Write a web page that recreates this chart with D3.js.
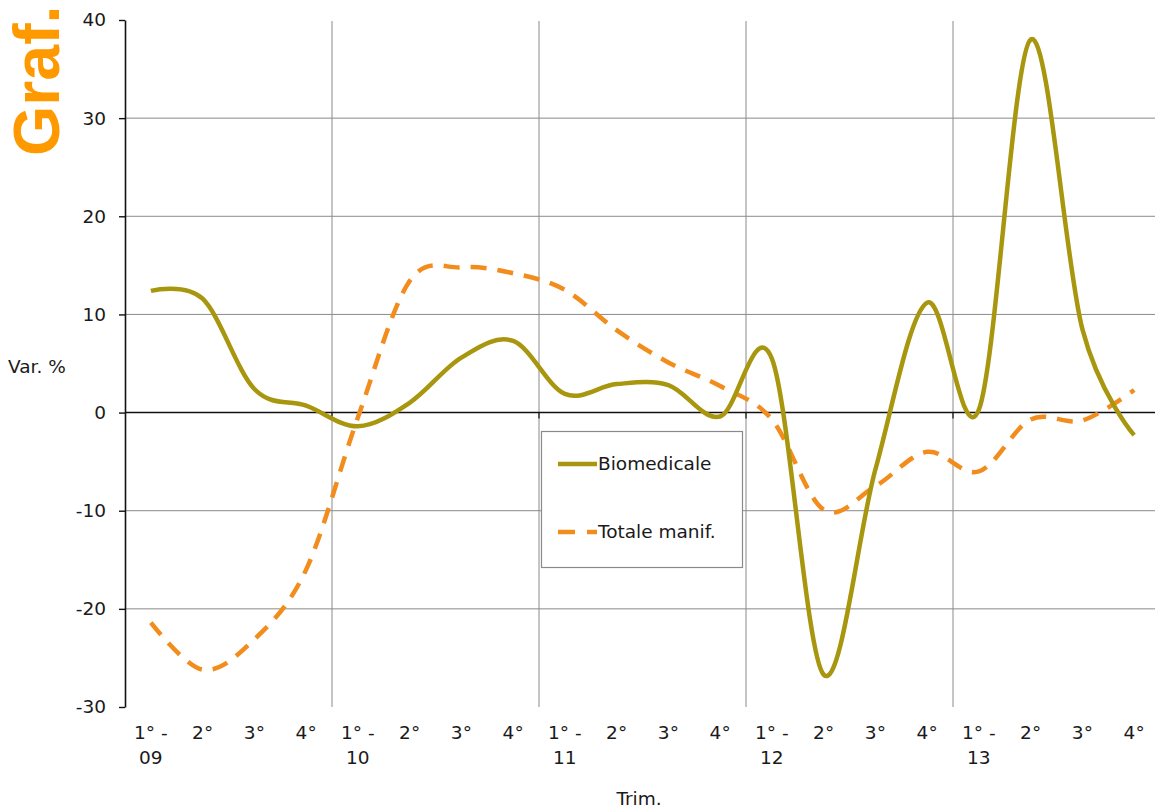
<!DOCTYPE html>
<html>
<head>
<meta charset="utf-8">
<script src="https://cdn.jsdelivr.net/npm/d3@7"></script>
<style>
  html, body { margin: 0; padding: 0; background: #fff; }
  svg { display: block; }
  text { font-family: "DejaVu Sans", Verdana, sans-serif; fill: #1a1a1a; }
</style>
</head>
<body>
<svg id="chart" width="1155" height="810"></svg>
<script>
// ---- data ----
const quarters = ["1° -","2°","3°","4°","1° -","2°","3°","4°","1° -","2°","3°","4°","1° -","2°","3°","4°","1° -","2°","3°","4°"];
const years    = ["09","","","","10","","","","11","","","","12","","","","13","","",""];
const biomedicale = [12.4, 11.6, 2.4, 0.7, -1.4, 1.0, 5.6, 7.3, 1.9, 2.9, 2.8, -0.4, 5.5, -26.7, -5.8, 11.2, 0.3, 38.0, 8.5, -2.3];
const totaleManif = [-21.4, -26.2, -23.1, -16.0, -0.5, 13.4, 14.8, 14.2, 12.5, 8.4, 5.1, 2.7, -0.7, -9.9, -7.5, -4.0, -6.0, -0.7, -0.8, 2.3];
const yTicks = [-30, -20, -10, 0, 10, 20, 30, 40];
const seriesNames = ["Biomedicale", "Totale manif."];

(function () {
const svg = d3.select("#chart");
const pL = 125, pR = 1160, pT = 20, pB = 707;
const fs = "18.5px";
const idx = d3.range(quarters.length);

const x = d3.scalePoint().domain(idx).range([pL, pR]).padding(0.5);
const y = d3.scaleLinear().domain([-30, 40]).range([pB, pT]);

// horizontal gridlines
svg.append("g").selectAll("line")
  .data(yTicks.filter(v => v !== 0 && v !== -30 && v !== 40))
  .join("line")
  .attr("x1", pL).attr("x2", 1155)
  .attr("y1", d => y(d)).attr("y2", d => y(d))
  .attr("stroke", "#8a8a8a").attr("stroke-width", 1);

// vertical gridlines between years
const bounds = idx.filter(i => i > 0 && i % 4 === 0).map(i => (x(i - 1) + x(i)) / 2);
svg.append("g").selectAll("line")
  .data(bounds)
  .join("line")
  .attr("x1", d => d).attr("x2", d => d)
  .attr("y1", pT + 1).attr("y2", pB)
  .attr("stroke", "#8a8a8a").attr("stroke-width", 1);

// zero axis line with ticks
svg.append("line")
  .attr("x1", pL).attr("x2", 1155)
  .attr("y1", y(0)).attr("y2", y(0))
  .attr("stroke", "#111").attr("stroke-width", 1.6);
svg.append("g").selectAll("line")
  .data(bounds)
  .join("line")
  .attr("x1", d => d).attr("x2", d => d)
  .attr("y1", y(0)).attr("y2", y(0) + 6)
  .attr("stroke", "#111").attr("stroke-width", 1.2);

// y axis
const yAxis = d3.axisLeft(y).tickValues(yTicks).tickFormat(d => String(d))
  .tickSize(6).tickSizeOuter(0).tickPadding(13);
const ga = svg.append("g").attr("transform", `translate(${pL},0)`).call(yAxis);
ga.select(".domain").attr("stroke", "#111").attr("stroke-width", 1.6);
ga.selectAll(".tick line").attr("stroke", "#111").attr("stroke-width", 1.4);
ga.selectAll(".tick text")
  .style("font-family", '"DejaVu Sans", Verdana, sans-serif')
  .style("font-size", fs).attr("fill", "#1a1a1a");

// category labels
const cat = svg.append("g");
cat.selectAll("text.q").data(idx).join("text").attr("class", "q")
  .attr("x", i => x(i)).attr("y", 739)
  .attr("text-anchor", "middle").style("font-size", fs)
  .text(i => quarters[i]);
cat.selectAll("text.yr").data(idx.filter(i => years[i] !== "")).join("text").attr("class", "yr")
  .attr("x", i => x(i)).attr("y", 764)
  .attr("text-anchor", "middle").style("font-size", fs)
  .text(i => years[i]);

// axis titles
svg.append("text").attr("x", 8).attr("y", 373).style("font-size", fs).text("Var. %");
svg.append("text").attr("x", 639).attr("y", 805).attr("text-anchor", "middle").style("font-size", fs).text("Trim.");

// Graf. title
svg.append("text")
  .attr("transform", "translate(59,156) rotate(-90)")
  .style("font-family", '"Liberation Sans", Arial, sans-serif')
  .style("font-weight", "bold").style("font-size", "64.5px")
  .style("fill", "#FF9900")
  .text("Graf.");

// lines
const colors = ["#A8960E", "#F28C1C"];
const line = d3.line()
  .x((d, i) => x(i))
  .y(d => y(d))
  .curve(d3.curveCatmullRom.alpha(0));

svg.append("path").datum(totaleManif)
  .attr("d", line).attr("fill", "none")
  .attr("stroke", colors[1]).attr("stroke-width", 4.5)
  .attr("stroke-dasharray", "16,11");
svg.append("path").datum(biomedicale)
  .attr("d", line).attr("fill", "none")
  .attr("stroke", colors[0]).attr("stroke-width", 4.5)
  .attr("stroke-linejoin", "round");

// legend
const lg = svg.append("g");
lg.append("rect").attr("x", 541.5).attr("y", 431.5).attr("width", 201).attr("height", 136)
  .attr("fill", "#fff").attr("stroke", "#8a8a8a").attr("stroke-width", 1.2);
const ly = [464, 532];
seriesNames.forEach((name, k) => {
  lg.append("line").attr("x1", 558).attr("x2", 597).attr("y1", ly[k]).attr("y2", ly[k])
    .attr("stroke", colors[k]).attr("stroke-width", 4.5)
    .attr("stroke-dasharray", k === 1 ? "17,12" : null);
  lg.append("text").attr("x", 598).attr("y", ly[k] + 6).style("font-size", fs).text(name);
});
})();
</script>
</body>
</html>
